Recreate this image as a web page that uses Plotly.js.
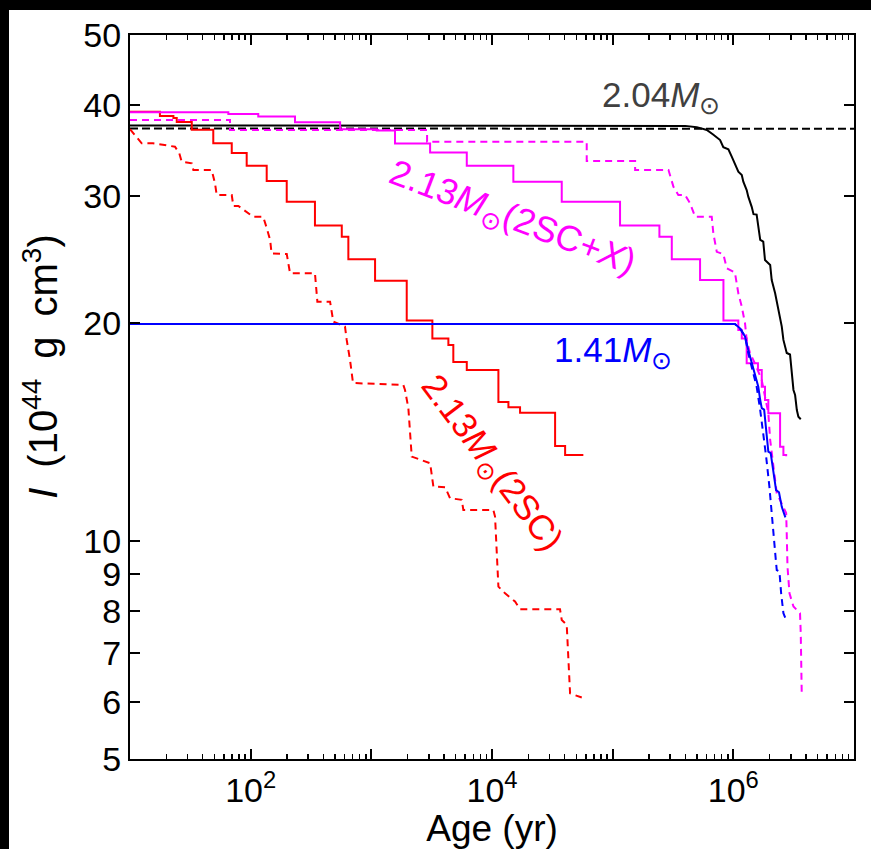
<!DOCTYPE html>
<html>
<head>
<meta charset="utf-8">
<script src="https://cdn.plot.ly/plotly-3.0.1.min.js"></script>
<style>
  html, body { margin: 0; padding: 0; background: #000; width: 871px; height: 849px; overflow: hidden; }
  #chart { position: absolute; left: 9px; top: 10px; width: 862px; height: 839px; background: #fff; }
</style>
</head>
<body>
<div id="chart"></div>
<script>
// ---- data (age in yr, I in 1e44 g cm^3) ----
const blackSolidAge = [10, 4.0e5, 4.98e5, 6.03e5, 6.84e5, 7.77e5, 8.26e5, 9.1e5, 9.7e5, 1.03e6, 1.10e6, 1.175e6, 1.21e6, 1.29e6, 1.33e6, 1.42e6, 1.47e6, 1.56e6, 1.61e6, 1.67e6, 1.77e6, 1.83e6, 2.02e6, 2.08e6, 2.22e6, 2.36e6, 2.52e6, 2.6e6, 2.77e6, 2.95e6, 3.05e6, 3.15e6, 3.25e6, 3.36e6, 3.46e6, 3.62e6];
const blackSolidI   = [37.5, 37.45, 37.3, 36.97, 36.4, 35.8, 35.0, 34.76, 33.96, 33.25, 32.37, 32.03, 31.36, 30.54, 29.9, 28.95, 28.28, 28.24, 27.18, 26.06, 25.92, 24.44, 24.06, 22.94, 21.99, 20.85, 19.78, 18.96, 18.19, 18.1, 16.87, 16.17, 15.91, 15.17, 14.85, 14.73];

const blackDashAge = [10, 1e7];
const blackDashI   = [37.15, 37.1];

const blueSolidAge = [10, 1.03e6, 1.136e6, 1.25e6, 1.33e6, 1.42e6, 1.51e6, 1.61e6, 1.67e6, 1.72e6, 1.80e6, 1.87e6, 1.95e6, 2.04e6, 2.15e6, 2.26e6, 2.39e6, 2.52e6, 2.70e6];
const blueSolidI   = [19.95, 19.95, 19.67, 19.16, 18.36, 17.6, 16.87, 16.34, 15.66, 15.26, 15.19, 14.39, 13.29, 13.23, 12.41, 11.76, 11.68, 11.15, 10.78];

const blueDashAge = [10, 1.03e6, 1.136e6, 1.25e6, 1.33e6, 1.47e6, 1.56e6, 1.67e6, 1.77e6, 1.87e6, 1.99e6, 2.08e6, 2.18e6, 2.25e6, 2.29e6, 2.41e6, 2.49e6, 2.60e6, 2.69e6];
const blueDashI   = [19.95, 19.95, 19.67, 19.16, 18.17, 17.05, 16.34, 15.17, 14.09, 13.08, 11.89, 10.81, 10.03, 9.41, 9.12, 9.08, 8.47, 7.95, 7.84];

// step series (drawn horizontal-then-vertical)
const magSolidAge = [10, 65.3, 115.6, 233, 551, 1109, 1571, 3069, 6180, 15030, 37840, 1.151e5, 2.44e5, 3.09e5, 5.30e5, 8.28e5, 1.10e6, 1.175e6, 1.29e6, 1.60e6, 1.72e6, 1.83e6, 1.95e6, 2.44e6, 2.60e6, 2.74e6];
const magSolidI   = [39.1, 38.9, 38.57, 37.88, 37.05, 36.9, 35.4, 34.4, 33.0, 31.35, 29.43, 27.27, 26.33, 24.5, 22.94, 20.16, 19.56, 19.05, 17.6, 17.23, 16.34, 15.66, 15.02, 13.5, 13.15, 13.1];

const magDashAge = [10, 67.4, 67.4, 2897, 2897, 60950, 60950, 1.535e5, 1.535e5, 2.90e5, 3.19e5, 3.50e5, 3.98e5, 4.38e5, 4.82e5, 6.62e5, 6.83e5, 7.29e5, 8.27e5, 8.81e5, 1.03e6, 1.10e6, 1.175e6, 1.25e6, 1.29e6, 1.375e6, 1.51e6, 1.72e6, 1.83e6, 1.95e6, 2.02e6, 2.15e6, 2.29e6, 2.44e6, 2.60e6, 2.74e6, 2.77e6, 2.81e6, 2.92e6, 3.15e6, 3.57e6, 3.62e6, 3.69e6];
const magDashI   = [38.15, 38.15, 36.95, 36.95, 35.61, 35.61, 33.5, 33.5, 32.55, 32.55, 30.86, 30.06, 30.06, 29.27, 28.05, 28.05, 26.61, 25.09, 24.9, 23.82, 23.5, 21.99, 21.07, 19.98, 18.96, 18.17, 17.6, 16.69, 15.83, 15.02, 13.79, 12.67, 11.64, 11.39, 11.15, 10.93, 10.25, 9.22, 8.47, 8.12, 7.95, 7.46, 6.13];

const redSolidAge = [10, 17.7, 22.9, 24.4, 32.5, 49, 69.7, 92.7, 135.8, 199, 341, 569, 645, 1074, 1965, 3205, 4350, 4780, 6180, 11300, 13680, 17080, 33340, 40360, 57150];
const redSolidI   = [39.17, 38.65, 38.4, 37.92, 37.0, 35.43, 34.36, 33.0, 31.43, 29.43, 27.27, 26.33, 24.5, 22.88, 20.16, 19.05, 18.66, 17.68, 17.23, 15.56, 15.3, 15.04, 13.53, 13.15, 13.15];

const redDashAge = [10, 12.5, 15.5, 23.6, 25.6, 26.8, 32.5, 33.5, 47.5, 50.6, 52.3, 69.7, 71.8, 79, 105, 127, 136, 145, 149, 199, 212, 341, 357, 455, 484, 605, 625, 666, 705, 1841, 1901, 2027, 2162, 2535, 3069, 3268, 4087, 4490, 5614, 5790, 10260, 10600, 11300, 12830, 15520, 17080, 36620, 37840, 41620, 44360, 55460];
const redDashI   = [37.05, 35.43, 35.43, 35.05, 34.33, 33.42, 33.25, 32.55, 32.55, 31.2, 30.06, 30.06, 29.03, 29.03, 28.05, 28.05, 27.04, 26.06, 24.97, 24.92, 23.44, 23.44, 21.41, 21.41, 20.09, 19.78, 18.96, 17.79, 16.53, 16.43, 16.17, 15.26, 13.08, 12.96, 12.81, 11.89, 11.87, 11.46, 11.4, 11.04, 11.04, 10.81, 8.65, 8.47, 8.25, 8.05, 8.05, 7.78, 7.66, 6.16, 6.08];

// axis ticks
const xLabelVals = [1e2, 1e4, 1e6];
const xLabelText = ['10<sup>2</sup>', '10<sup>4</sup>', '10<sup>6</sup>'];
const xOddDecades = [1e1, 1e3, 1e5, 1e7];
const yTickVals = [5, 6, 7, 8, 9, 10, 20, 30, 40, 50];
const yTickText = ['5', '6', '7', '8', '9', '10', '20', '30', '40', '50'];

const xMinorVals = [];
[1e1, 1e2, 1e3, 1e4, 1e5, 1e6].forEach(d => { for (let k = 2; k <= 9; k++) xMinorVals.push(k * d); });

const FONT = 'Liberation Sans, Arial, Helvetica, sans-serif';
const YRANGE = [Math.log10(5), Math.log10(50)];

function tr(x, y, color, dash, shape) {
  return { x: x, y: y, type: 'scatter', mode: 'lines', showlegend: false, hoverinfo: 'skip',
           line: { color: color, width: 2, dash: dash, shape: shape || 'linear' } };
}

const traces = [
  tr(blackDashAge, blackDashI, '#000000', '8px,4px'),
  tr(blackSolidAge, blackSolidI, '#000000', 'solid'),
  tr(redDashAge, redDashI, '#ff0000', '7px,5px'),
  tr(redSolidAge, redSolidI, '#ff0000', 'solid', 'hv'),
  tr(magDashAge, magDashI, '#ff00ff', '7px,5px'),
  tr(magSolidAge, magSolidI, '#ff00ff', 'solid', 'hv'),
  tr(blueDashAge, blueDashI, '#0000ff', '7px,5px'),
  tr(blueSolidAge, blueSolidI, '#0000ff', 'solid'),
  // invisible carriers for the tick-only overlay axes
  { x: [10, 1e7], y: [5, 5], xaxis: 'x2', yaxis: 'y2', type: 'scatter', mode: 'lines', opacity: 0, line: { width: 0 }, showlegend: false, hoverinfo: 'skip' },
  { x: [10, 1e7], y: [5, 5], xaxis: 'x3', yaxis: 'y2', type: 'scatter', mode: 'lines', opacity: 0, line: { width: 0 }, showlegend: false, hoverinfo: 'skip' }
];

const tickAxisBase = {
  type: 'log', range: [1, 7], overlaying: 'x', side: 'bottom', anchor: 'y2',
  tickmode: 'array', showticklabels: false, ticks: 'inside', tickcolor: '#000',
  showline: true, linecolor: '#000', linewidth: 2, mirror: 'allticks',
  showgrid: false, zeroline: false
};

const layout = {
  width: 862, height: 839,
  margin: { l: 121, r: 17, t: 25, b: 90 },
  paper_bgcolor: '#ffffff', plot_bgcolor: '#ffffff',
  font: { family: FONT, size: 34, color: '#000' },
  showlegend: false,
  xaxis: {
    type: 'log', range: [1, 7],
    tickmode: 'array', tickvals: xLabelVals, ticktext: xLabelText,
    ticks: 'inside', ticklen: 10, tickwidth: 2, tickcolor: '#000',
    showline: true, linecolor: '#000', linewidth: 2, mirror: 'allticks',
    showgrid: false, zeroline: false,
    tickfont: { family: FONT, size: 34, color: '#000' },
    title: { text: 'Age (yr)', font: { family: FONT, size: 37, color: '#000' }, standoff: 0 }
  },
  xaxis2: Object.assign({}, tickAxisBase, { tickvals: xMinorVals, ticklen: 5, tickwidth: 1.5 }),
  xaxis3: Object.assign({}, tickAxisBase, { tickvals: xOddDecades, ticklen: 10, tickwidth: 2 }),
  yaxis: {
    type: 'log', range: YRANGE,
    tickmode: 'array', tickvals: yTickVals, ticktext: yTickText,
    ticks: 'inside', ticklen: 10, tickwidth: 2, tickcolor: '#000',
    showline: true, linecolor: '#000', linewidth: 2, mirror: 'allticks',
    showgrid: false, zeroline: false,
    tickfont: { family: FONT, size: 34, color: '#000' },
    title: { text: '' }
  },
  yaxis2: {
    type: 'log', range: YRANGE, overlaying: 'y', anchor: 'x2',
    showticklabels: false, ticks: '', showline: false, showgrid: false, zeroline: false
  },
  annotations: [
    { xref: 'paper', yref: 'paper', x: -0.124, y: 0.542, xanchor: 'center', yanchor: 'middle',
      text: '<i>I</i>\u2002(10<sup>44</sup>\u2002g\u2002cm<sup>3</sup>)', textangle: -90, showarrow: false,
      font: { family: FONT, size: 40, color: '#000' } },
    { xref: 'paper', yref: 'paper', x: 0.649, y: 0.914, xanchor: 'left', yanchor: 'middle',
      text: '2.04<i>M</i><sub>⊙</sub>', showarrow: false,
      font: { family: FONT, size: 35, color: '#404040' } },
    { xref: 'paper', yref: 'paper', x: 0.5825, y: 0.5615, xanchor: 'left', yanchor: 'middle',
      text: '1.41<i>M</i><sub>⊙</sub>', showarrow: false,
      font: { family: FONT, size: 35, color: '#0000ff' } },
    { xref: 'paper', yref: 'paper', x: 0.528, y: 0.746, xanchor: 'center', yanchor: 'middle',
      text: '2.13<i>M</i><sub>⊙</sub>(2SC+<i>X</i>)', textangle: 21, showarrow: false,
      font: { family: FONT, size: 36, color: '#ff00ff' } },
    { xref: 'paper', yref: 'paper', x: 0.499, y: 0.4075, xanchor: 'center', yanchor: 'middle',
      text: '2.13<i>M</i><sub>⊙</sub>(2SC)', textangle: 53, showarrow: false,
      font: { family: FONT, size: 35, color: '#ff0000' } }
  ]
};

Plotly.newPlot('chart', traces, layout, { staticPlot: true, displayModeBar: false });
</script>
</body>
</html>
